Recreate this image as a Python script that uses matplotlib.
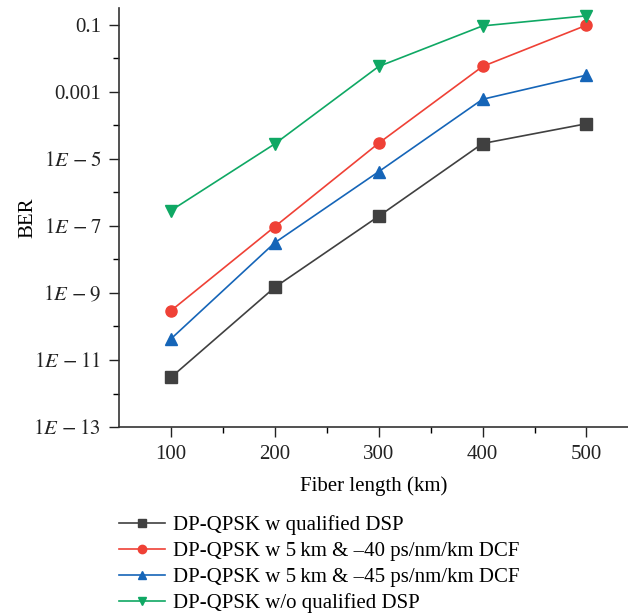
import numpy as np
import matplotlib.pyplot as plt

plt.rcParams['font.family'] = ['Liberation Serif', 'DejaVu Serif']
plt.rcParams['mathtext.fontset'] = 'stix'

# lengte vezel (km)
lengte = [100, 200, 300, 400, 500]
ber_qualified = [-11.52, -8.83, -6.71, -4.54, -3.95]
ber_dcf40 = [-9.53, -7.02, -4.53, -2.24, -1.01]
ber_dcf45 = [-10.37, -7.5, -5.38, -3.22, -2.5]
ber_zonder = [-6.54, -4.55, -2.24, -1.03, -0.73]

labels = ['DP-QPSK w qualified DSP',
          'DP-QPSK w 5\u2009km & \u201340 ps/nm/km DCF',
          'DP-QPSK w 5\u2009km & \u201345 ps/nm/km DCF',
          'DP-QPSK w/o qualified DSP']
kleuren = ['#404040', '#ef4136', '#1565b8', '#0fa864']
markers = ['s', 'o', '^', 'v']

fig = plt.figure(figsize=(6.28, 6.16), dpi=100)
ax = fig.add_axes([0.1895, 0.3068, 0.8105, 0.680])

reeksen = [ber_qualified, ber_dcf40, ber_dcf45, ber_zonder]
for r, lab, c, m in zip(reeksen, labels, kleuren, markers):
    ax.plot(lengte, 10.0 ** np.array(r), color=c, marker=m, markersize=8,
            linewidth=1.2, label=lab)

ax.set_yscale('log')
ax.set_ylim(1e-13, 10 ** -0.5)
ax.set_xlim(50, 540)

yt = [1e-13, 1e-11, 1e-9, 1e-7, 1e-5, 1e-3, 1e-1]
ytl = [r'$1\mathit{E}\,-13$', r'$1\mathit{E}\,-11$', r'$1\mathit{E}\,-9$',
       r'$1\mathit{E}\,-7$', r'$1\mathit{E}\,-5$', '0.001', '0.1']
ax.set_yticks(yt)
ax.set_yticklabels(ytl)
ax.set_yticks([10.0 ** k for k in range(-12, 0, 2)], minor=True)
ax.yaxis.set_minor_formatter(plt.NullFormatter())
ax.set_xticks(lengte)
ax.set_xticks([150, 250, 350, 450], minor=True)

ax.tick_params(which='major', direction='out', length=7, width=1, labelsize=15,
               colors='#222222', pad=6)
ax.tick_params(which='minor', direction='out', length=4, width=1)
for s in ['top', 'right']:
    ax.spines[s].set_visible(False)
for s in ['left', 'bottom']:
    ax.spines[s].set_linewidth(1.2)
    ax.spines[s].set_color('#333333')

ax.set_xlabel('Fiber length (km)', fontsize=15, labelpad=9)
ax.set_ylabel('BER', fontsize=15)
ax.yaxis.set_label_coords(-0.16, 0.5)

fig.legend(loc='upper left', bbox_to_anchor=(0.176, 0.177), frameon=False,
           fontsize=15, handlelength=2.2, labelspacing=0.3, handletextpad=0.4,
           borderaxespad=0, markerscale=0.75)

fig.savefig('out.png', dpi=100)
